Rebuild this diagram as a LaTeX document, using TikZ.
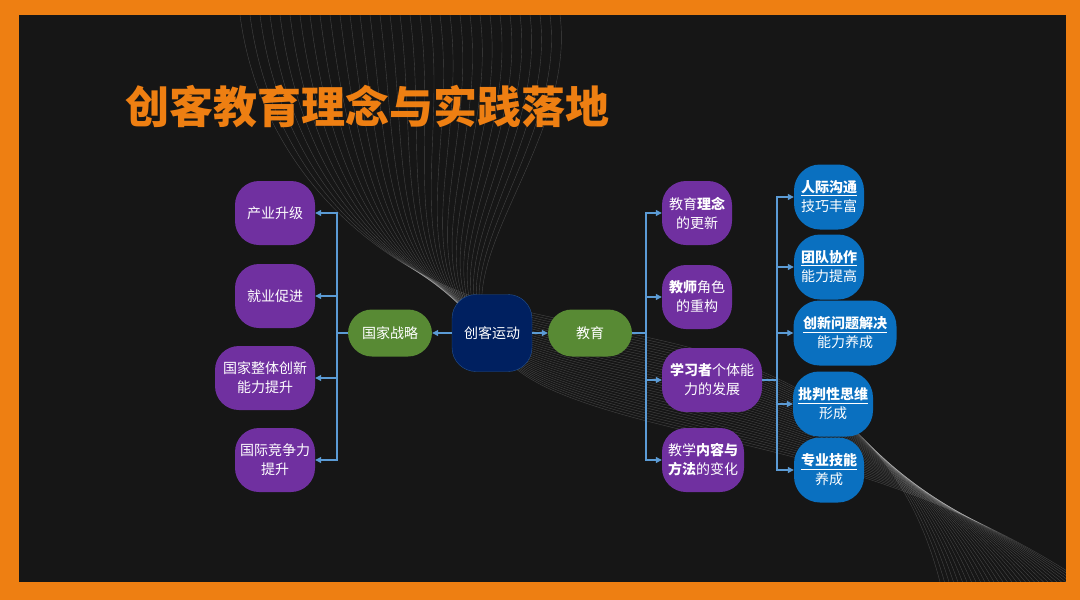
\documentclass[tikz,border=0pt]{standalone}
\usepackage{fontspec}
\setmainfont{Noto Sans CJK SC}
\usetikzlibrary{arrows.meta}
\definecolor{frameorange}{HTML}{EE7F12}
\definecolor{darkbg}{HTML}{161616}
\definecolor{nodepurple}{HTML}{7030A0}
\definecolor{nodegreen}{HTML}{588A34}
\definecolor{nodenavy}{HTML}{002060}
\definecolor{nodeblue}{HTML}{0A70C0}
\definecolor{linkblue}{HTML}{5B9BD5}
\tikzset{
  box/.style={rounded corners=24pt, text=white, align=center, inner sep=2pt,
    font=\fontsize{14}{19}\selectfont, minimum height=64pt},
  purplebox/.style={box, fill=nodepurple, minimum width=80pt},
  greenbox/.style={box, fill=nodegreen, minimum width=84pt, minimum height=47pt},
  navybox/.style={box, fill=nodenavy, draw=linkblue!40!nodenavy, minimum width=80pt, minimum height=77pt},
  bluebox/.style={box, rounded corners=26pt, fill=nodeblue, minimum width=70pt, minimum height=65pt},
  link/.style={draw=linkblue, line width=1.1pt},
  arr/.style={link, -{Triangle[length=6pt,width=6pt]}},
  wave/.style={draw=white, opacity=0.2, line width=0.4pt},
}
\begin{document}
\begin{tikzpicture}[x=1pt, y=-1pt]
    \useasboundingbox (0,0) rectangle (1080,600);
    \fill[frameorange] (0,0) rectangle (1080,600);
    \fill[darkbg] (19,15) rectangle (1066,582);
    % background lines
    \begin{scope}
        \clip (19,15) rectangle (1066,582);
        \foreach \i in {0,...,32} {
            \draw[wave] (240+10*\i,15) .. controls (260+10*\i,170) and (380,280+\i) .. (520+\i,310+\i*2.5)
                .. controls (680,350+\i*3) and (880,350+\i*3) .. (940+\i*4.5,582);
        }
    \end{scope}
    \node[anchor=west, text=frameorange, font=\fontsize{44}{50}\selectfont\bfseries] (title) at (122,107) {创客教育理念与实践落地};
    % centre
    \node[greenbox] (gjzl) at (390,333) {国家战略};
    \node[navybox] (ckyd) at (492,333) {创客运动};
    \node[greenbox] (jy) at (590,333) {教育};
    % left branch
    \node[purplebox] (cysj) at (275,213) {产业升级};
    \node[purplebox] (jycj) at (275,296) {就业促进};
    \node[purplebox, minimum width=100pt] (cxnl) at (265,378) {国家整体创新\\能力提升};
    \node[purplebox] (gjjz) at (275,460) {国际竞争力\\提升};
    % right branch
    \node[purplebox, minimum width=70pt] (jyln) at (697,213) {教育\textbf{理念}\\的更新};
    \node[purplebox, minimum width=70pt] (jsjs) at (697,297) {\textbf{教师}角色\\的重构};
    \node[purplebox, minimum width=100pt] (xxz) at (712,380) {\textbf{学习者}个体能\\力的发展};
    \node[purplebox, minimum width=82pt] (jxnr) at (703,460) {教学\textbf{内容与}\\\textbf{方法}的变化};
    % abilities
    \node[bluebox] (rjgt) at (829,197) {\underline{\textbf{人际沟通}}\\技巧丰富};
    \node[bluebox] (tdxz) at (829,267) {\underline{\textbf{团队协作}}\\能力提高};
    \node[bluebox, minimum width=103pt] (cxwt) at (845,333) {\underline{\textbf{创新问题解决}}\\能力养成};
    \node[bluebox, minimum width=80pt] (ppsw) at (833,404) {\underline{\textbf{批判性思维}}\\形成};
    \node[bluebox] (zyjn) at (829,470) {\underline{\textbf{专业技能}}\\养成};
    % connectors
    \draw[arr] (ckyd.west) -- (gjzl.east);
    \draw[arr] (ckyd.east) -- (jy.west);
    \coordinate (lbus) at (337,333);
    \draw[link] (gjzl.west) -- (lbus);
    \foreach \n in {cysj,jycj,cxnl,gjjz}
        \draw[arr] (lbus) |- (\n.east);
    \coordinate (rbus) at (646,333);
    \draw[link] (jy.east) -- (rbus);
    \foreach \n in {jyln,jsjs,xxz,jxnr}
        \draw[arr] (rbus) |- (\n.west);
    \coordinate (bbus) at (777,380);
    \draw[link] (xxz.east) -- (bbus);
    \foreach \n in {rjgt,tdxz,cxwt,ppsw,zyjn}
        \draw[arr] (bbus) |- (\n.west);
\end{tikzpicture}
\end{document}
